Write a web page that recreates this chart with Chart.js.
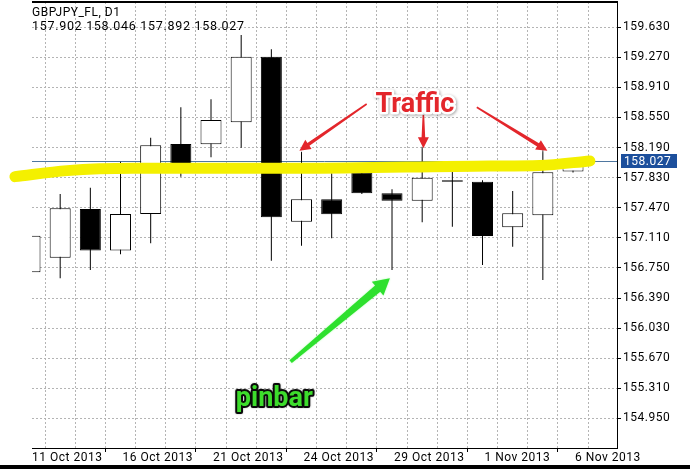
<!DOCTYPE html>
<html><head><meta charset="utf-8">
<script src="https://cdn.jsdelivr.net/npm/chart.js@4.4.1/dist/chart.umd.min.js"></script>
<style>html,body{margin:0;padding:0;background:#fff;overflow:hidden}#wrap{width:690px;height:469px;position:relative;background:#fff}</style>
</head><body><div id="wrap"><canvas id="c" width="690" height="469"></canvas></div>
<script>
// ---- data ----
const dates  = ['11 Oct','14 Oct','15 Oct','16 Oct','17 Oct','18 Oct','21 Oct','22 Oct','23 Oct','24 Oct',
                '25 Oct','28 Oct','29 Oct','30 Oct','31 Oct','1 Nov','4 Nov','5 Nov','6 Nov'];
const opens  = [156.698,156.873,157.455,156.957,157.396,158.233,158.229,158.492,159.277,157.303,
                157.571,157.894,157.643,157.555,157.800,157.782,157.236,157.380,157.902];
const highs  = [157.200,157.635,157.710,158.021,158.308,158.672,158.768,159.537,159.366,158.141,
                157.882,157.905,157.691,158.201,157.960,157.800,157.671,158.181,158.046];
const lows   = [156.600,156.626,156.726,156.913,157.045,157.842,158.074,158.189,156.837,157.016,
                157.105,157.635,156.726,157.296,157.244,156.785,157.004,156.606,157.892];
const closes = [157.136,157.464,156.957,157.396,158.217,157.990,158.520,159.277,157.356,157.571,
                157.392,157.643,157.555,157.830,157.782,157.132,157.404,157.894,158.027];
const xLabelIdx  = [0,3,6,9,12,15,18];
const xLabelText = ['11 Oct 2013','16 Oct 2013','21 Oct 2013','24 Oct 2013','29 Oct 2013','1 Nov 2013','6 Nov 2013'];
const xGridIdx   = [0,1,2,3,4,5,6,7,8,9,10,11,12,13,14,15,16,17,18,19];
const yTicks = [154.950,155.310,155.670,156.030,156.390,156.750,157.110,157.470,157.830,158.190,158.550,158.910,159.270,159.630];
const symbolTitle = 'GBPJPY_FL, D1';
const ohlcText = '157.902 158.046 157.892 158.027';
const currentPrice = 158.027;
// hand-drawn yellow highlight (index, price)
const highlightX = [-0.50, 1.23, 3.41, 8.95, 15.25, 16.90, 18.56];
const highlightY = [157.842,157.914,157.942,157.942,157.970,157.976,158.030];
// annotations (index, price)
const trafficText = 'Traffic';
const trafficPos = [12.76, 158.619];
const trafficFrom = [[11.16,158.711],[13.04,158.580],[14.81,158.672]];
const trafficTo   = [[8.93,158.153],[13.04,158.181],[17.15,158.153]];
const pinbarText = 'pinbar';
const pinbarPos = [8.10, 155.099];
const pinbarFrom = [8.64, 155.629];
const pinbarTo   = [11.93, 156.626];

Chart.defaults.font.family = 'Roboto';
Chart.defaults.font.size = 12;
Chart.defaults.color = '#000';

const bodyColors = opens.map((o,i)=> closes[i] >= o ? '#ffffff' : '#000000');

function taperArrow(ctx, x1,y1,x2,y2, wTail, wBase, headLen, headW){
  const a = Math.atan2(y2-y1, x2-x1), c=Math.cos(a), s=Math.sin(a);
  const bx = x2 - headLen*c, by = y2 - headLen*s;
  ctx.beginPath();
  ctx.moveTo(x1 + wTail*s, y1 - wTail*c);
  ctx.lineTo(bx + wBase*s, by - wBase*c);
  ctx.lineTo(bx + headW*s, by - headW*c);
  ctx.lineTo(x2, y2);
  ctx.lineTo(bx - headW*s, by + headW*c);
  ctx.lineTo(bx - wBase*s, by + wBase*c);
  ctx.lineTo(x1 - wTail*s, y1 + wTail*c);
  ctx.closePath();
  ctx.fill();
}

const decor = {
  id:'decor',
  beforeDraw(chart){ chart.ctx.letterSpacing = '0.5px'; },
  beforeDatasetsDraw(chart){
    const {ctx, chartArea:a, scales:{y}} = chart;
    const py = Math.round(y.getPixelForValue(currentPrice)) + 0.5;
    ctx.save();
    ctx.strokeStyle = '#4f77a0'; ctx.lineWidth = 1;
    ctx.beginPath(); ctx.moveTo(a.left, py); ctx.lineTo(a.right, py); ctx.stroke();
    ctx.restore();
  },
  afterDraw(chart){
    const {ctx, chartArea:a, scales:{x,y}} = chart;
    ctx.save();
    // top frame line
    ctx.fillStyle = '#000';
    ctx.fillRect(a.left, a.top-1, a.right-a.left+1, 2);
    // bottom dark frame
    ctx.fillRect(0, 465, chart.width, 4);
    // current price label
    const py = y.getPixelForValue(currentPrice);
    ctx.fillStyle = '#1c4f9c';
    ctx.fillRect(a.right+4, Math.round(py)-7, 56, 14);
    ctx.fillStyle = '#ffffff';
    ctx.font = '12px Roboto'; ctx.textBaseline = 'middle'; ctx.textAlign = 'left';
    ctx.letterSpacing = '0.5px';
    ctx.fillText(currentPrice.toFixed(3), a.right+7, Math.round(py)+0.5);
    // header
    ctx.fillStyle = '#000';
    ctx.font = '12px Roboto';
    ctx.letterSpacing = '0.5px';
    ctx.fillText(symbolTitle, a.left, 13);
    ctx.font = '12.5px Roboto';
    ctx.letterSpacing = '0.7px';
    ctx.fillText(ohlcText, a.left, 26.5);
    ctx.letterSpacing = '0px';
    // red arrows
    ctx.fillStyle = '#e3262b';
    ctx.shadowColor = 'rgba(255,255,255,0.9)'; ctx.shadowBlur = 3;
    for (let k=0;k<trafficFrom.length;k++){
      taperArrow(ctx, x.getPixelForValue(trafficFrom[k][0]), y.getPixelForValue(trafficFrom[k][1]),
        x.getPixelForValue(trafficTo[k][0]), y.getPixelForValue(trafficTo[k][1]), 0.8, 1.8, 11, 5.5);
    }
    // Traffic text
    ctx.font = 'bold 27px Roboto'; ctx.textAlign = 'center'; ctx.textBaseline = 'alphabetic';
    ctx.lineJoin = 'round';
    const tx = x.getPixelForValue(trafficPos[0]), ty = y.getPixelForValue(trafficPos[1]);
    ctx.shadowColor = 'rgba(0,0,0,0.35)'; ctx.shadowBlur = 3; ctx.shadowOffsetX = 1; ctx.shadowOffsetY = 1;
    ctx.strokeStyle = '#ffffff'; ctx.lineWidth = 5;
    ctx.strokeText(trafficText, tx, ty);
    ctx.shadowColor = 'transparent';
    ctx.fillStyle = '#e3262b';
    ctx.fillText(trafficText, tx, ty);
    // green arrow
    ctx.shadowColor = 'rgba(120,255,120,0.6)'; ctx.shadowBlur = 2; ctx.shadowOffsetX = 0; ctx.shadowOffsetY = 0;
    ctx.fillStyle = '#2ee02e';
    taperArrow(ctx, x.getPixelForValue(pinbarFrom[0]), y.getPixelForValue(pinbarFrom[1]),
      x.getPixelForValue(pinbarTo[0]), y.getPixelForValue(pinbarTo[1]), 1.8, 4, 16, 9);
    // pinbar text
    ctx.shadowColor = 'rgba(0,0,0,0.3)'; ctx.shadowBlur = 2;
    ctx.font = 'bold 27px Roboto';
    const gx = x.getPixelForValue(pinbarPos[0]), gy = y.getPixelForValue(pinbarPos[1]);
    ctx.strokeStyle = '#0a0a0a'; ctx.lineWidth = 4;
    ctx.strokeText(pinbarText, gx, gy);
    ctx.shadowColor = 'transparent';
    ctx.fillStyle = '#3ddc2c';
    ctx.fillText(pinbarText, gx, gy);
    ctx.restore();
  }
};

new Chart(document.getElementById('c'), {
  type: 'bar',
  data: {
    datasets: [
      { type:'line', data: highlightX.map((v,i)=>({x:v, y:highlightY[i]})),
        borderColor:'#f4f000', borderWidth:11, borderCapStyle:'round', borderJoinStyle:'round',
        pointRadius:0, cubicInterpolationMode:'monotone', clip:false, fill:false },
      { data: dates.map((d,i)=>({x:i, y:[opens[i], closes[i]]})),
        backgroundColor: bodyColors, borderColor:'#000', borderWidth:1, borderSkipped:false,
        barThickness:21, grouped:false, inflateAmount:0, clip:0 },
      { data: dates.map((d,i)=>({x:i, y:[lows[i], highs[i]]})),
        backgroundColor:'#000', borderWidth:0, barThickness:1, grouped:false, inflateAmount:0, clip:0 }
    ]
  },
  options: {
    responsive:false, animation:false,
    layout:{ padding:{ left:32, top:2, right:0, bottom:0 } },
    plugins:{ legend:{display:false}, tooltip:{enabled:false} },
    scales:{
      x:{ type:'linear', position:'bottom', min:0.066, max:19.458, offset:false,
          afterBuildTicks:(s)=>{ s.ticks = xGridIdx.map(v=>({value:v})); },
          afterFit:(s)=>{ s.height = 21; s.paddingLeft = 0; s.paddingRight = 0; s.paddingTop = 0; s.paddingBottom = 0; },
          grid:{ color:'#b4b4b4', lineWidth:1, tickLength:4, tickBorderDash:[],
                 tickColor:(c)=> (c.tick && c.tick.label) ? '#000' : 'rgba(0,0,0,0)' },
          border:{ display:true, color:'#000', width:1, dash:[2,2] },
          ticks:{ autoSkip:false, maxRotation:0, minRotation:0, align:'start', padding:0, labelOffset:2,
                  font:{size:12, lineHeight:1},
                  callback:(v)=>{ const k = xLabelIdx.indexOf(v); return k>=0 ? xLabelText[k] : ''; } }
      },
      y:{ type:'linear', position:'right', min:154.596, max:159.931,
          afterBuildTicks:(s)=>{ s.ticks = yTicks.map(v=>({value:v})); },
          afterFit:(s)=>{ s.width = 73; s.paddingTop = 0; s.paddingBottom = 0; s.paddingLeft = 0; s.paddingRight = 0; },
          grid:{ color:'#b4b4b4', lineWidth:1, tickLength:4, tickColor:'#000', tickBorderDash:[] },
          border:{ display:true, color:'#000', width:1, dash:[2,2] },
          ticks:{ padding:2, font:{size:12}, callback:(v)=> Number(v).toFixed(3) }
      }
    }
  },
  plugins:[decor]
});
</script>
</body></html>
